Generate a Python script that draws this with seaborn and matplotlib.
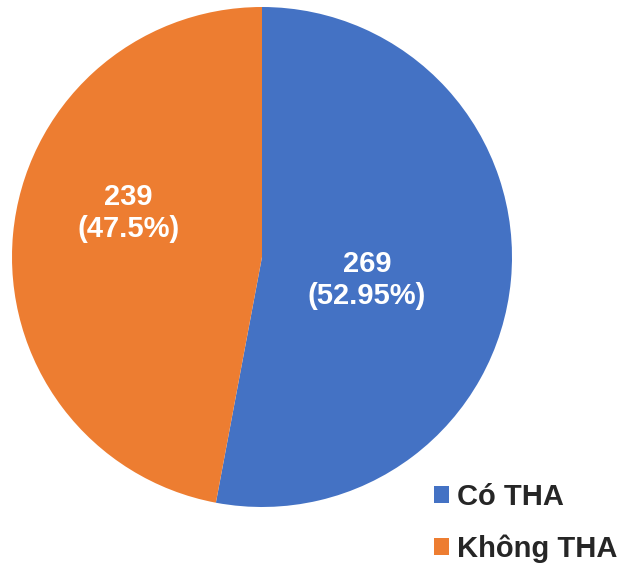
import matplotlib
matplotlib.use("Agg")
import matplotlib.pyplot as plt
import seaborn as sns
from matplotlib.patches import Patch

categories = ["Có THA", "Không THA"]
counts = [269, 239]
pct_labels = ["52.95%", "47.5%"]
colors = ["#4472C4", "#ED7D31"]

sns.set_theme(style="white")
plt.rcParams['font.family'] = ['Liberation Sans', 'DejaVu Sans']

fig = plt.figure(figsize=(6.22, 5.65), dpi=100)
ax = fig.add_axes([12/622, 58/565, 500/622, 500/565])
wedges, _ = ax.pie(counts, colors=colors, startangle=90, counterclock=False,
                   radius=1.0, wedgeprops=dict(linewidth=0))
ax.set_xlim(-1, 1)
ax.set_ylim(-1, 1)
ax.set_aspect('auto')
ax.axis('off')

label_pos = [(0.42, -0.092), (-0.534, 0.176)]
for (x, y), c, p in zip(label_pos, counts, pct_labels):
    ax.text(x, y, f"{c}\n({p})", ha='center', va='center', color='white',
            fontsize=21, fontweight='bold', linespacing=1.15)

handles = [Patch(facecolor=col, edgecolor='none') for col in colors]
fig.legend(handles, categories, loc='upper left', bbox_to_anchor=(434/622, 1 - 483/565),
           frameon=False, prop=dict(size=21, weight='bold'),
           handlelength=0.5, handleheight=0.5, handletextpad=0.3, labelspacing=0.8,
           borderpad=0, borderaxespad=0)

fig.savefig("out.png", dpi=100)
